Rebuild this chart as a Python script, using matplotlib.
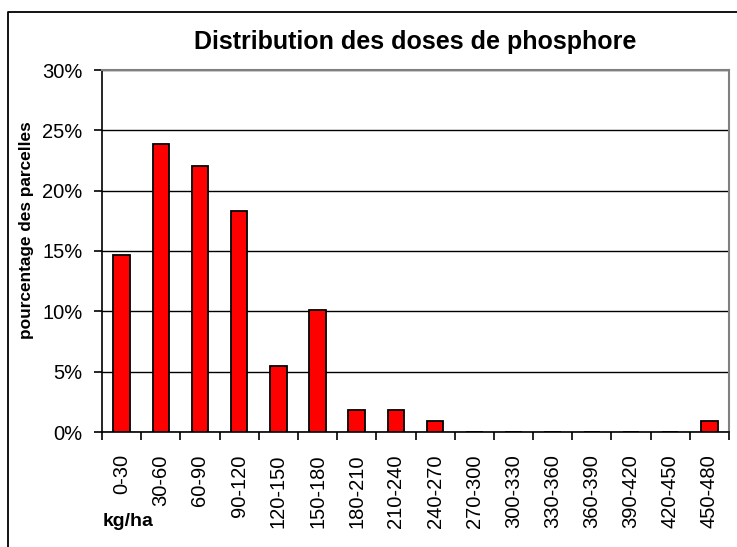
import numpy as np
import matplotlib.pyplot as plt
from matplotlib.lines import Line2D
from matplotlib.ticker import PercentFormatter

# classes de dose (kg/ha) et part des parcelles (%)
classes = ['0-30', '30-60', '60-90', '90-120', '120-150', '150-180', '180-210',
           '210-240', '240-270', '270-300', '300-330', '330-360', '360-390',
           '390-420', '420-450', '450-480']
pct = [14.68, 23.85, 22.02, 18.35, 5.50, 10.09, 1.83, 1.83, 0.92,
       0, 0, 0, 0, 0, 0, 0.92]

W, H = 737, 547
plt.rcParams['font.family'] = ['Liberation Sans', 'DejaVu Sans']

fig = plt.figure(figsize=(W / 100, H / 100), dpi=100)
ax = fig.add_axes([102 / W, 1 - 432 / H, (729 - 102) / W, (432 - 70) / H])

x = np.arange(len(classes))
ax.bar(x, pct, width=0.42, color='#ff0000', edgecolor='black', linewidth=1.3, zorder=3)

ax.set_xlim(-0.5, len(classes) - 0.5)
ax.set_ylim(0, 30)
ax.set_yticks(np.arange(0, 31, 5))
ax.yaxis.set_major_formatter(PercentFormatter(decimals=0))
ax.grid(axis='y', color='black', linewidth=1, zorder=0)

ax.set_xticks(x)
ax.set_xticklabels(classes, rotation=90, va='top')
ax.set_xticks(np.arange(-0.5, len(classes)), minor=True)
ax.tick_params(axis='x', which='major', length=0, pad=16, labelsize=14.5)
ax.tick_params(axis='x', which='minor', length=6, width=1.2, color='black', direction='out')
ax.tick_params(axis='y', length=6, width=1.2, pad=8, labelsize=14.5, direction='out')

for s in ['top', 'right']:
    ax.spines[s].set_color('#808080')
    ax.spines[s].set_linewidth(1.5)
for s in ['left', 'bottom']:
    ax.spines[s].set_color('black')
    ax.spines[s].set_linewidth(1.2)

fig.text(415 / W, 1 - 42 / H, 'Distribution des doses de phosphore',
         ha='center', va='center', fontsize=18, fontweight='bold')
fig.text(27 / W, 1 - 230 / H, 'pourcentage des parcelles', rotation=90,
         ha='center', va='center', fontsize=12.4, fontweight='bold')
fig.text(103 / W, 1 - 522 / H, 'kg/ha', ha='left', va='center',
         fontsize=14, fontweight='bold')

# cadre extérieur du graphique
fig.add_artist(Line2D([8 / W, 8 / W, 1], [0, 1 - 12 / H, 1 - 12 / H],
                      transform=fig.transFigure, color='black', linewidth=1.3))

fig.savefig('out.png', dpi=100)
